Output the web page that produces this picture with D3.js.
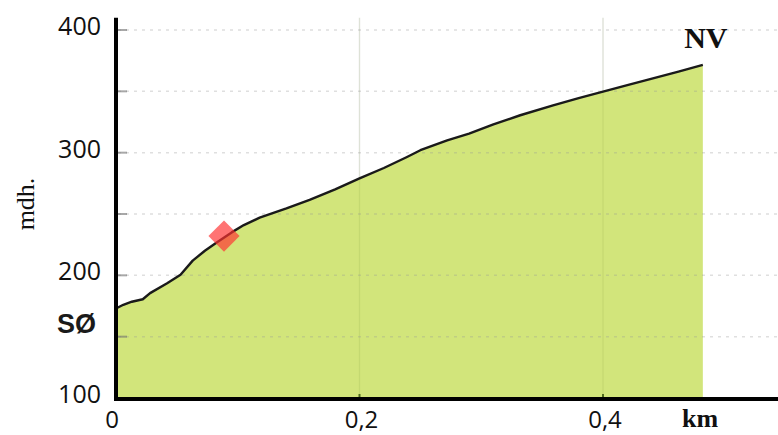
<!DOCTYPE html>
<html>
<head>
<meta charset="utf-8">
<script src="https://cdn.jsdelivr.net/npm/d3@7/dist/d3.min.js"></script>
<style>
  html, body { margin: 0; padding: 0; background: #fff; }
  svg { display: block; }
</style>
</head>
<body>
<script>
// ---- data ----
const distanceKm = [0, 0.006, 0.013, 0.022, 0.028, 0.042, 0.053, 0.063, 0.073, 0.083, 0.095, 0.105, 0.118, 0.14, 0.159, 0.18, 0.2, 0.22, 0.239, 0.25, 0.272, 0.29, 0.31, 0.332, 0.359, 0.38, 0.4, 0.42, 0.441, 0.462, 0.482];
const elevation  = [173, 176, 178.5, 180.5, 185.5, 193.5, 200.5, 212, 220, 227, 235, 241, 247, 254.5, 261.5, 270, 279, 287.5, 296.5, 302, 310, 315.5, 323, 330.5, 338.5, 344.5, 349.7, 355, 360.6, 366, 371.5];
const marker = { km: 0.0887, elev: 232 };
const yTicks = [100, 150, 200, 250, 300, 350, 400];
const yTickLabels = ["100", "", "200", "", "300", "", "400"];
const xTicks = [0, 0.2, 0.4];
const xTickLabels = ["0", "0,2", "0,4"];
const startLabel = "SØ";
const endLabel = "NV";
const xUnit = "km";
const yUnit = "mdh.";

// ---- layout ----
const W = 778, H = 435;
const svg = d3.select("body").append("svg").attr("width", W).attr("height", H);

const x = d3.scaleLinear().domain([0, 0.4]).range([116, 603]);
const y = d3.scaleLinear().domain([100, 400]).range([398, 30]);

const pts = distanceKm.map((d, i) => ({ km: d, elev: elevation[i] }));

// vertical grid
svg.append("g").selectAll("line").data(xTicks.slice(1)).join("line")
  .attr("x1", d => x(d)).attr("x2", d => x(d))
  .attr("y1", y(410)).attr("y2", y(100))
  .attr("stroke", "rgba(120,120,120,0.12)").attr("stroke-width", 1.5);

// area
const area = d3.area().x(d => x(d.km)).y0(y(100)).y1(d => y(d.elev));
svg.append("path").datum(pts).attr("d", area).attr("fill", "#d2e57b");

// vertical grid over fill (faint)
svg.append("g").selectAll("line").data(xTicks.slice(1)).join("line")
  .attr("x1", d => x(d)).attr("x2", d => x(d))
  .attr("y1", y(410)).attr("y2", y(100))
  .attr("stroke", "rgba(100,130,40,0.12)").attr("stroke-width", 1.2);

// horizontal dotted grid
svg.append("g").selectAll("line").data(yTicks.slice(1)).join("line")
  .attr("x1", x(0) + 2).attr("x2", W)
  .attr("y1", d => y(d)).attr("y2", d => y(d))
  .attr("stroke", "rgba(150,150,150,0.3)").attr("stroke-width", 1.5)
  .attr("stroke-dasharray", "3,5");

// profile line
const line = d3.line().x(d => x(d.km)).y(d => y(d.elev));
svg.append("path").datum(pts).attr("d", line)
  .attr("fill", "none").attr("stroke", "#1a1a1a").attr("stroke-width", 2.4)
  .attr("stroke-linejoin", "round");

// marker diamond
const s = 22;
svg.append("rect")
  .attr("x", -s / 2).attr("y", -s / 2).attr("width", s).attr("height", s)
  .attr("fill", "rgba(255,50,50,0.68)")
  .attr("transform", `translate(${x(marker.km)},${y(marker.elev)}) rotate(45)`);

// y ticks (short marks right of axis)
svg.append("g").selectAll("line").data(yTicks.slice(1)).join("line")
  .attr("x1", x(0)).attr("x2", x(0) + 11)
  .attr("y1", d => y(d)).attr("y2", d => y(d))
  .attr("stroke", "rgba(110,110,110,0.6)").attr("stroke-width", 2);

// x small ticks
svg.append("g").selectAll("line").data(xTicks.slice(1)).join("line")
  .attr("x1", d => x(d)).attr("x2", d => x(d))
  .attr("y1", y(100) - 4).attr("y2", y(100))
  .attr("stroke", "#4e6a1e").attr("stroke-width", 2);

// axes
svg.append("line").attr("x1", x(0)).attr("x2", x(0))
  .attr("y1", y(410)).attr("y2", y(100) + 2)
  .attr("stroke", "#000").attr("stroke-width", 4);
svg.append("line").attr("x1", x(0) - 2).attr("x2", W)
  .attr("y1", y(100) + 1).attr("y2", y(100) + 1)
  .attr("stroke", "#000").attr("stroke-width", 4);

// y tick labels
svg.append("g").selectAll("text").data(yTicks.map((d, i) => ({ v: d, t: yTickLabels[i] })).filter(d => d.t)).join("text")
  .attr("x", 101).attr("y", d => y(d.v) + 5)
  .attr("text-anchor", "end")
  .attr("font-family", "Open Sans, sans-serif").attr("font-size", 25)
  .attr("fill", "#111").text(d => d.t);

// x tick labels
svg.append("g").selectAll("text").data(xTicks.map((d, i) => ({ v: d, t: xTickLabels[i] }))).join("text")
  .attr("x", (d, i) => x(d.v) + (i === 0 ? -4 : 2)).attr("y", 428)
  .attr("text-anchor", "middle")
  .attr("font-family", "Open Sans, sans-serif").attr("font-size", 24)
  .attr("fill", "#111").text(d => d.t);

// labels
svg.append("text").attr("x", 57).attr("y", 333)
  .attr("font-family", "Liberation Sans, Arial, sans-serif").attr("font-weight", "bold")
  .attr("font-size", 27).attr("fill", "#1a1a1a").text(startLabel);

svg.append("text").attr("x", x(distanceKm[distanceKm.length - 1]) + 3).attr("y", 48)
  .attr("text-anchor", "middle")
  .attr("font-family", "Liberation Serif, Times New Roman, serif").attr("font-weight", "bold")
  .attr("font-size", 30).attr("fill", "#111").text(endLabel);

svg.append("text").attr("x", 682).attr("y", 427)
  .attr("font-family", "Liberation Serif, Times New Roman, serif").attr("font-weight", "bold")
  .attr("font-size", 26).attr("fill", "#111").text(xUnit);

svg.append("text")
  .attr("transform", "translate(34,204) rotate(-90)")
  .attr("text-anchor", "middle")
  .attr("font-family", "Liberation Serif, Times New Roman, serif")
  .attr("font-size", 26).attr("fill", "#111").text(yUnit);
</script>
</body>
</html>
